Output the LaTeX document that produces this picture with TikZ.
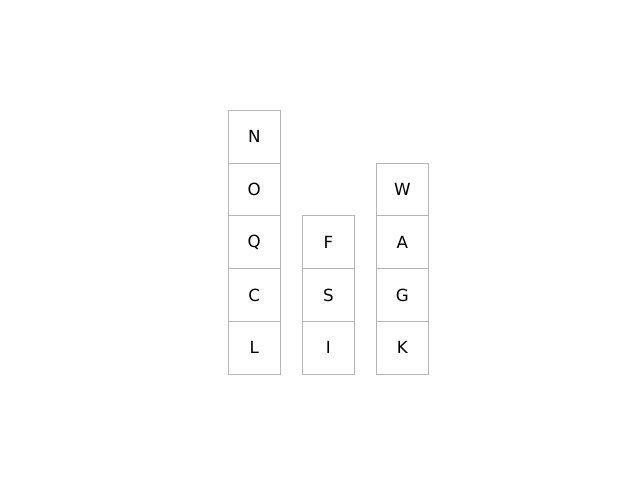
\documentclass[tikz,border=0pt]{standalone}
\usepackage{fontspec}
\setmainfont{DejaVu Sans}
\definecolor{boxgray}{HTML}{B4B4B4}
\begin{document}
\begin{tikzpicture}[x=1pt,y=-1pt,
  cell/.style={draw=boxgray,line width=1pt,minimum width=52pt,minimum height=52.8pt,inner sep=0pt,outer sep=0pt,font=\fontsize{16.7}{20}\selectfont,anchor=north west}]
\useasboundingbox (0,0) rectangle (640,480);
\node[cell] (N) at (228.3,110.3) {N};
\node[cell] (O) at (228.3,163.1) {O};
\node[cell] (Q) at (228.3,215.9) {Q};
\node[cell] (C) at (228.3,268.7) {C};
\node[cell] (L) at (228.3,321.5) {L};
\node[cell] (F) at (302.3,215.9) {F};
\node[cell] (S) at (302.3,268.7) {S};
\node[cell] (I) at (302.3,321.5) {I};
\node[cell] (W) at (376.3,163.1) {W};
\node[cell] (A) at (376.3,215.9) {A};
\node[cell] (G) at (376.3,268.7) {G};
\node[cell] (K) at (376.3,321.5) {K};
\end{tikzpicture}
\end{document}
